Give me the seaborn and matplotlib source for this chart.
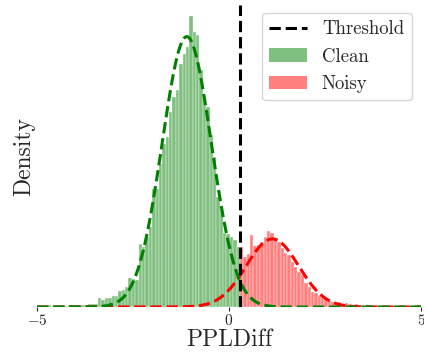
import numpy as np
import pandas as pd
import matplotlib
matplotlib.use("Agg")
import matplotlib.pyplot as plt
import seaborn as sns
from matplotlib.lines import Line2D
from matplotlib.patches import Patch

# ---------------- data ----------------
clean_bin_lo, clean_bin_hi = -4.73, 0.286
clean_density = [0.003, 0.002, 0.001, 0.002, 0.002, 0.001, 0.003, 0.004, 0.004, 0.002,
                 0.003, 0.004, 0.006, 0.006, 0.006, 0.017, 0.013, 0.017, 0.017, 0.020,
                 0.020, 0.030, 0.031, 0.037, 0.054, 0.052, 0.050, 0.116, 0.111, 0.129,
                 0.148, 0.218, 0.218, 0.264, 0.301, 0.314, 0.360, 0.387, 0.400, 0.448,
                 0.467, 0.480, 0.537, 0.507, 0.502, 0.437, 0.387, 0.369, 0.317, 0.277,
                 0.203, 0.179, 0.137, 0.135, 0.129, 0.124, 0.111]

noisy_bin_lo, noisy_bin_hi = 0.286, 3.806
noisy_density = [0.111, 0.092, 0.098, 0.133, 0.113, 0.114, 0.120, 0.129, 0.140, 0.137,
                 0.127, 0.120, 0.109, 0.100, 0.096, 0.083, 0.074, 0.065, 0.059, 0.044,
                 0.037, 0.028, 0.026, 0.020, 0.017, 0.015, 0.011, 0.009, 0.007, 0.009,
                 0.006, 0.007, 0.006, 0.004, 0.006, 0.002, 0.002, 0.002, 0.001, 0.001]

# fitted normal curves: mean, std, weight (share of all samples)
clean_fit = dict(mu=-1.10, sigma=0.64, weight=0.80)
noisy_fit = dict(mu=1.13, sigma=0.68, weight=0.214)

threshold = 0.29
xlim = (-5, 5)
xticks = [-5, 0, 5]
labels = ["Threshold", "Clean", "Noisy"]

# ---------------- style ----------------
sns.set_style("white")
plt.rcParams["font.family"] = "serif"
plt.rcParams["font.serif"] = ["cmr10", "DejaVu Serif"]
plt.rcParams["mathtext.fontset"] = "cm"
plt.rcParams["axes.formatter.use_mathtext"] = True

fig = plt.figure(figsize=(4.24, 3.56), dpi=100)
ax = fig.add_axes([37 / 424, 49 / 356, 384 / 424, 302 / 356])


def hist(lo, hi, dens, color):
    edges = np.linspace(lo, hi, len(dens) + 1)
    df = pd.DataFrame({"x": (edges[:-1] + edges[1:]) / 2, "w": dens})
    sns.histplot(data=df, x="x", weights="w", bins=edges.tolist(), stat="count",
                 color=color, alpha=0.5, edgecolor="white", linewidth=0.25, ax=ax)


hist(clean_bin_lo, clean_bin_hi, clean_density, "green")
hist(noisy_bin_lo, noisy_bin_hi, noisy_density, "red")

xs = np.linspace(xlim[0], xlim[1], 500)


def normal(fit):
    return fit["weight"] * np.exp(-0.5 * ((xs - fit["mu"]) / fit["sigma"]) ** 2) / (
        fit["sigma"] * np.sqrt(2 * np.pi))


sns.lineplot(x=xs, y=normal(noisy_fit), color="red", linestyle="--", linewidth=2.2, ax=ax)
sns.lineplot(x=xs, y=normal(clean_fit), color="green", linestyle="--", linewidth=2.2, ax=ax)
ax.axvline(threshold, color="black", linestyle="--", linewidth=2.2)

ax.set_xlim(*xlim)
ax.set_ylim(0, 0.557)
ax.set_xticks(xticks)
ax.set_yticks([])
ax.tick_params(axis="x", bottom=True, length=3, width=0.8, labelsize=11, pad=1)
for s in ax.spines.values():
    s.set_visible(False)
ax.set_xlabel("PPLDiff", fontsize=17, labelpad=1)
ax.set_ylabel("Density", fontsize=17, labelpad=1)

handles = [Line2D([0], [0], color="black", linestyle="--", linewidth=2.2),
           Patch(facecolor="green", alpha=0.5, edgecolor="none"),
           Patch(facecolor="red", alpha=0.5, edgecolor="none")]
ax.legend(handles, labels, loc="upper right", fontsize=13.5, frameon=True,
          bbox_to_anchor=(1.0, 1.005), borderaxespad=0.5)

fig.savefig("out.png", dpi=100)
